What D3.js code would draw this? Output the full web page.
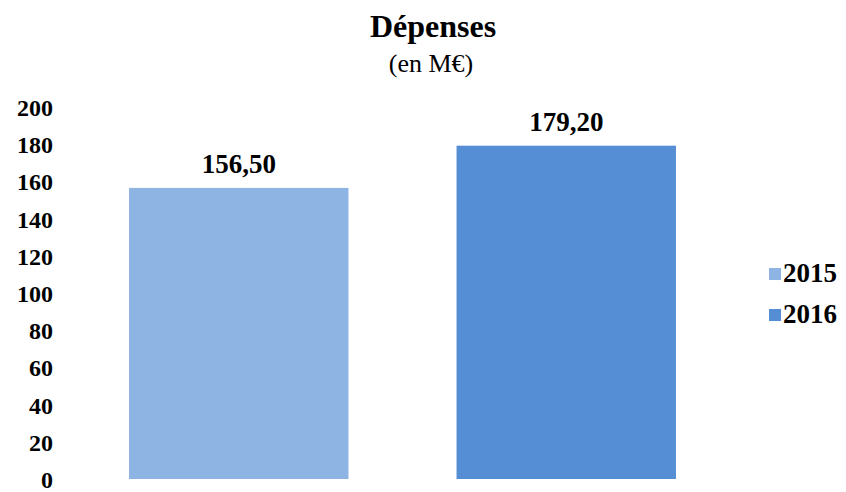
<!DOCTYPE html>
<html>
<head>
<meta charset="utf-8">
<script src="https://cdn.jsdelivr.net/npm/d3@7"></script>
<style>
  body { margin: 0; background: #fff; }
  svg text { font-family: "Liberation Serif", "Times New Roman", serif; fill: #000; }
</style>
</head>
<body>
<div id="chart"></div>
<script>
//chart data
var years = ["2015", "2016"];
var values = [156.5, 179.2];
var labels = ["156,50", "179,20"];
var colors = ["#8EB4E3", "#558ED5"];
var yTicks = [0, 20, 40, 60, 80, 100, 120, 140, 160, 180, 200];

var width = 846, height = 492;

const svg = d3.select("#chart").append("svg")
    .attr("width", width)
    .attr("height", height);

//scales
const x = d3.scaleBand()
    .domain(years)
    .range([75, 730])
    .paddingInner(0.33)
    .paddingOuter(0.165);

const y = d3.scaleLinear()
    .domain([0, 200])
    .range([479, 107]);

//title
svg.append("text")
    .attr("x", 433).attr("y", 37)
    .attr("text-anchor", "middle")
    .style("font-size", "32px")
    .style("font-weight", "bold")
    .text("Dépenses");

svg.append("text")
    .attr("x", 431).attr("y", 72)
    .attr("text-anchor", "middle")
    .style("font-size", "26px")
    .text("(en M€)");

//y axis labels only
const yAxis = svg.append("g")
    .attr("transform", "translate(53,0)")
    .call(d3.axisLeft(y).tickValues(yTicks).tickSize(0).tickPadding(0));
yAxis.select(".domain").remove();
yAxis.selectAll("text")
    .attr("dy", "0.35em")
    .style("font-size", "24px")
    .style("font-weight", "bold")
    .style("font-family", "'Liberation Serif', 'Times New Roman', serif");

//bars
const data = years.map(function(d, i){ return {year: d, value: values[i], label: labels[i], color: colors[i]}; });

svg.append("g").selectAll("rect")
    .data(data)
    .enter().append("rect")
    .attr("x", function(d){ return x(d.year); })
    .attr("y", function(d){ return y(d.value); })
    .attr("width", x.bandwidth())
    .attr("height", function(d){ return y(0) - y(d.value); })
    .attr("fill", function(d){ return d.color; });

//value labels
svg.append("g").selectAll("text")
    .data(data)
    .enter().append("text")
    .attr("x", function(d){ return x(d.year) + x.bandwidth() / 2; })
    .attr("y", function(d){ return y(d.value) - 15; })
    .attr("text-anchor", "middle")
    .style("font-size", "27px")
    .style("font-weight", "bold")
    .text(function(d){ return d.label; });

//legend
const legend = svg.append("g").selectAll("g")
    .data(data)
    .enter().append("g")
    .attr("transform", function(d, i){ return "translate(769," + (268 + i * 41) + ")"; });

legend.append("rect")
    .attr("width", 12).attr("height", 12)
    .attr("fill", function(d){ return d.color; });

legend.append("text")
    .attr("x", 14).attr("y", 14)
    .style("font-size", "27px")
    .style("font-weight", "bold")
    .text(function(d){ return d.year; });
</script>
</body>
</html>
